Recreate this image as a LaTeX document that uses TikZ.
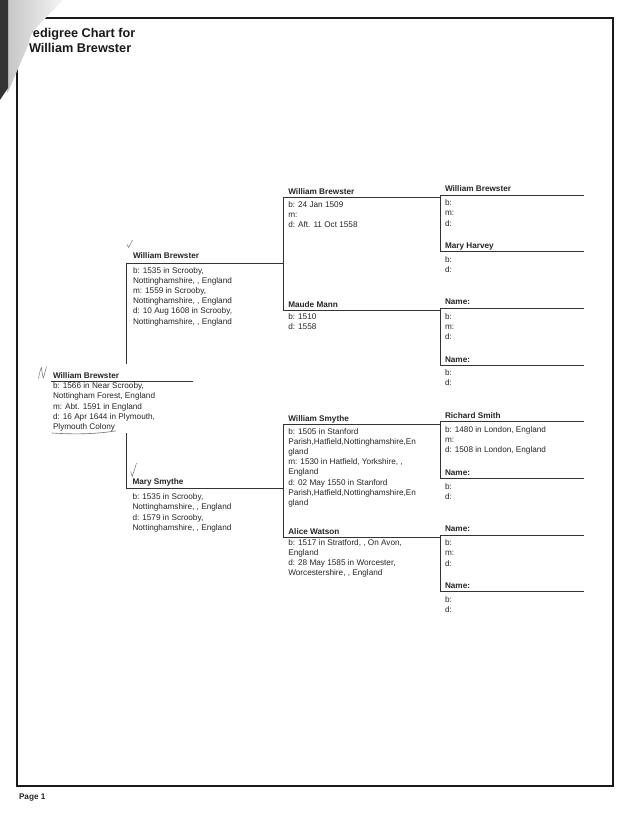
\documentclass[tikz,border=0pt]{standalone}
\usepackage{fontspec}
\setmainfont{Liberation Sans}
\newcommand{\blk}[1]{\begin{tabular}[t]{@{}l@{}}#1\end{tabular}}
\tikzset{
  txt/.style={anchor=base west, inner sep=0pt, outer sep=0pt, text=black!85, font=\fontsize{8.2}{10.2}\selectfont},
  nm/.style={txt, font=\fontsize{8.2}{10.2}\selectfont\bfseries},
  ttl/.style={anchor=base west, inner sep=0pt, outer sep=0pt, text=black!90, font=\fontsize{12.7}{15}\selectfont\bfseries},
  ln/.style={draw=black!80, line width=0.8pt},
  pageborder/.style={draw=black!90, line width=1.6pt},
  hand/.style={draw=black!55, line width=0.5pt, line cap=round, line join=round},
}
\newcommand{\famfour}[6]{%
 \begin{scope}[shift={(0,#2)}]
  \coordinate (#1tl) at (440,0);
  \coordinate (#1tr) at (584,0);
  \coordinate (#1bl) at (440,56.7);
  \coordinate (#1br) at (584,56.7);
  \draw[ln] (#1tr) -- (#1tl) -- (#1bl) -- (#1br);
  \node[nm] (#1h) at (445,-3.7) {#3};
  \node[txt] (#1hd) at (445,10.7) {\blk{#4}};
  \node[nm] (#1w) at (445,53.7) {#5};
  \node[txt] (#1wd) at (445,67.3) {\blk{#6}};
 \end{scope}}
\begin{document}
\begin{tikzpicture}[x=1pt,y=-1pt]
\useasboundingbox (0,0) rectangle (632,824);
\fill[white] (0,0) rectangle (632,824);

% page border
\draw[pageborder] (17,18) rectangle (613,786);
\node[txt, font=\fontsize{8.2}{10.2}\selectfont\bfseries] (page) at (19,799) {Page 1};

% title
\node[ttl] (t1) at (24.5,37.8) {Pedigree Chart for};
\node[ttl] (t2) at (29,52.8) {William Brewster};

% ---------- generation 1
\coordinate (g1l) at (51,381);
\coordinate (g1r) at (193,381);
\draw[ln] (g1l) -- (g1r);
\node[nm] (g1) at (53,378) {William Brewster};
\node[txt] (g1d) at (53,388.7) {\blk{b: 1566 in Near Scrooby,\\Nottingham Forest, England\\m: Abt. 1591 in England\\d: 16 Apr 1644 in Plymouth,\\Plymouth Colony}};

% ---------- generation 2
\coordinate (g2tl) at (126,263.3);
\coordinate (g2tr) at (283,263.3);
\coordinate (g2bl) at (126,488.3);
\coordinate (g2br) at (283,488.3);
\coordinate (g2ga) at (126,364);
\coordinate (g2gb) at (126,433);
\draw[ln] (g2tr) -- (g2tl) -- (g2ga);
\draw[ln] (g2gb) -- (g2bl) -- (g2br);
\node[nm] (g2f) at (133,258.7) {William Brewster};
\node[txt] (g2fd) at (133,273) {\blk{b: 1535 in Scrooby,\\Nottinghamshire, , England\\m: 1559 in Scrooby,\\Nottinghamshire, , England\\d: 10 Aug 1608 in Scrooby,\\Nottinghamshire, , England}};
\node[nm] (g2m) at (132.5,484.7) {Mary Smythe};
\node[txt] (g2md) at (132.5,499.7) {\blk{b: 1535 in Scrooby,\\Nottinghamshire, , England\\d: 1579 in Scrooby,\\Nottinghamshire, , England}};

% ---------- generation 3
\coordinate (g3atl) at (283,197.3);
\coordinate (g3atr) at (440,197.3);
\coordinate (g3abl) at (283,310);
\coordinate (g3abr) at (440,310);
\draw[ln] (g3atr) -- (g3atl) -- (g3abl) -- (g3abr);
\node[nm] (g3af) at (288.3,194.7) {William Brewster};
\node[txt] (g3afd) at (288.3,207) {\blk{b: 24 Jan 1509\\m:\\d: Aft. 11 Oct 1558}};
\node[nm] (g3am) at (288.3,307) {Maude Mann};
\node[txt] (g3amd) at (288.3,319.3) {\blk{b: 1510\\d: 1558}};

\coordinate (g3btl) at (283,424.3);
\coordinate (g3btr) at (440,424.3);
\coordinate (g3bbl) at (283,537);
\coordinate (g3bbr) at (440,537);
\draw[ln] (g3btr) -- (g3btl) -- (g3bbl) -- (g3bbr);
\node[nm] (g3bf) at (288.3,421.3) {William Smythe};
\node[txt] (g3bfd) at (288.3,434) {\blk{b: 1505 in Stanford\\Parish,Hatfield,Nottinghamshire,En\\gland\\m: 1530 in Hatfield, Yorkshire, ,\\England\\d: 02 May 1550 in Stanford\\Parish,Hatfield,Nottinghamshire,En\\gland}};
\node[nm] (g3bm) at (288.3,534.5) {Alice Watson};
\node[txt] (g3bmd) at (288.3,545) {\blk{b: 1517 in Stratford, , On Avon,\\England\\d: 28 May 1585 in Worcester,\\Worcestershire, , England}};

% ---------- generation 4
\famfour{fa}{195}{William Brewster}{b:\\m:\\d:}{Mary Harvey}{b:\\d:}
\famfour{fb}{308.3}{Name:}{b:\\m:\\d:}{Name:}{b:\\d:}
\famfour{fc}{421.7}{Richard Smith}{b: 1480 in London, England\\m:\\d: 1508 in London, England}{Name:}{b:\\d:}
\famfour{fd}{535}{Name:}{b:\\m:\\d:}{Name:}{b:\\d:}

% ---------- hand marks
\draw[hand] (38.5,378.5) .. controls (39.5,373) and (40.5,369) .. (41.5,367.5)
  .. controls (42,372) and (42.5,376) .. (43.5,378) .. controls (44.5,374) and (45.5,370) .. (46.5,366.5);
\draw[hand] (127,244.5) -- (128.6,247.5) -- (132.5,240);
\draw[hand] (130.7,471.7) -- (132.3,476.5) -- (136.5,463);
\draw[hand, line width=0.6pt] (52,433) .. controls (80,434.8) and (100,433.5) .. (116,430.8);

% ---------- folded corner of the scan
\shade[left color=gray!45, right color=gray!8] (7,0) -- (63,0) -- (32,32) -- (27,48) -- (8,92) -- (7,92) -- cycle;
\fill[black!80] (0,0) -- (8,0) -- (8,88) -- (0,100) -- cycle;
\end{tikzpicture}
\end{document}
